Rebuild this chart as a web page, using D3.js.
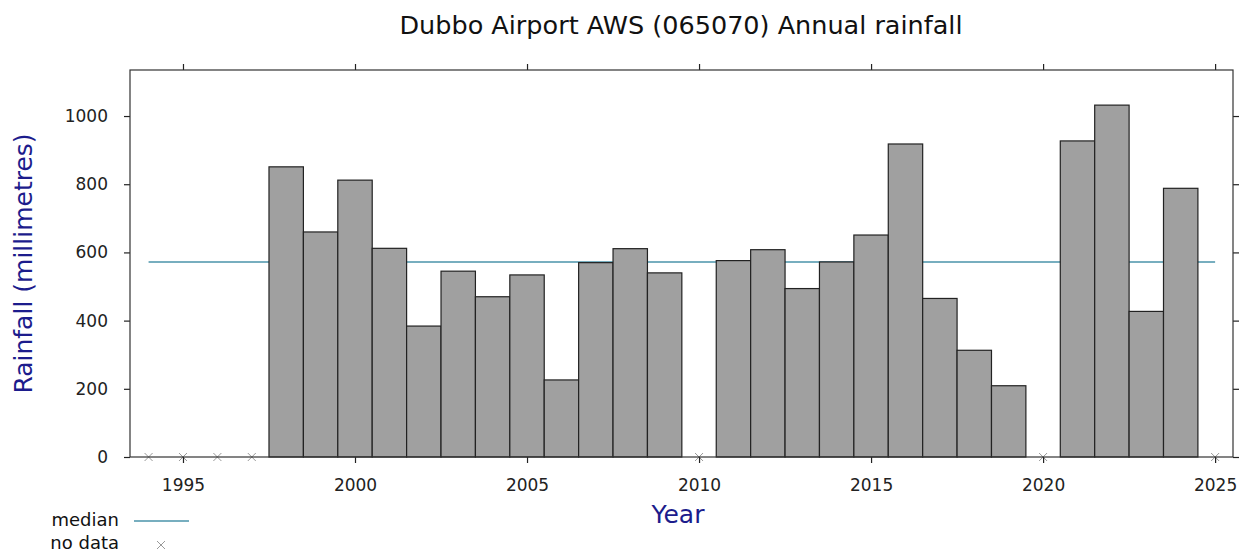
<!DOCTYPE html>
<html>
<head>
<meta charset="utf-8">
<script src="https://cdn.jsdelivr.net/npm/d3@7"></script>
<style>
  body { margin: 0; background: #fff; }
  svg text { font-family: "DejaVu Sans", sans-serif; }
</style>
</head>
<body>
<script>
const width = 1246;
const height = 552;

// annual rainfall (mm)
const years = [1998, 1999, 2000, 2001, 2002, 2003, 2004, 2005, 2006, 2007, 2008, 2009,
  2011, 2012, 2013, 2014, 2015, 2016, 2017, 2018, 2019, 2021, 2022, 2023, 2024];
const rainfall = [851, 660, 812, 612, 384, 545, 470, 534, 226, 570, 611, 540,
  576, 608, 494, 572, 651, 918, 465, 313, 209, 927, 1032, 427, 788];
const noDataYears = [1994, 1995, 1996, 1997, 2010, 2020, 2025];
const median = 572;
const xTicks = [1995, 2000, 2005, 2010, 2015, 2020, 2025];
const yTicks = [0, 200, 400, 600, 800, 1000];

let margin = { top: 70, right: 13, bottom: 95, left: 130 };

let svg = d3.select("body").append("svg")
  .attr("width", width)
  .attr("height", height);

let xScale = d3.scaleLinear()
  .domain([1993.46, 2025.52])
  .range([margin.left, width - margin.right]);

let yScale = d3.scaleLinear()
  .domain([0, 1135])
  .range([height - margin.bottom, margin.top]);

let data = years.map((y, i) => ({ year: y, value: rainfall[i] }));

// median line (drawn under bars)
svg.append("line")
  .attr("x1", xScale(1994))
  .attr("x2", xScale(2025))
  .attr("y1", yScale(median))
  .attr("y2", yScale(median))
  .attr("stroke", "#4a93aa")
  .attr("stroke-width", 1.5);

svg.selectAll("rect.bar")
  .data(data)
  .join("rect")
  .attr("class", "bar")
  .attr("x", (d) => xScale(d.year - 0.5))
  .attr("width", (d) => xScale(d.year + 0.5) - xScale(d.year - 0.5))
  .attr("y", (d) => yScale(d.value))
  .attr("height", (d) => yScale(0) - yScale(d.value))
  .attr("fill", "#a0a0a0")
  .attr("stroke", "#222")
  .attr("stroke-width", 1.2);

// no data markers
let cross = 4;
let nd = svg.selectAll("g.nodata")
  .data(noDataYears)
  .join("g")
  .attr("class", "nodata")
  .attr("transform", (d) => `translate(${xScale(d)}, ${yScale(0)})`);
nd.append("path")
  .attr("d", `M${-cross},${-cross}L${cross},${cross}M${-cross},${cross}L${cross},${-cross}`)
  .attr("stroke", "#999")
  .attr("stroke-width", 1);

// axes
let bottomAxis = d3.axisBottom(xScale).tickValues(xTicks).tickFormat(d3.format("d")).tickSize(6).tickPadding(16);
let topAxis = d3.axisTop(xScale).tickValues(xTicks).tickFormat("").tickSize(6);
let leftAxis = d3.axisLeft(yScale).tickValues(yTicks).tickFormat(d3.format("d")).tickSize(6).tickPadding(16);
let rightAxis = d3.axisRight(yScale).tickValues(yTicks).tickFormat("").tickSize(6);

function style(g) {
  g.select(".domain").remove();
  g.selectAll(".tick line").attr("stroke", "#222").attr("stroke-width", 1.2);
  g.selectAll(".tick text")
    .attr("fill", "#222")
    .style("font-size", "17px")
    .style("font-family", '"DejaVu Sans", sans-serif');
}

svg.append("g").attr("transform", `translate(0, ${height - margin.bottom})`).call(bottomAxis).call(style);
svg.append("g").attr("transform", `translate(0, ${margin.top})`).call(topAxis).call(style);
svg.append("g").attr("transform", `translate(${margin.left}, 0)`).call(leftAxis).call(style);
svg.append("g").attr("transform", `translate(${width - margin.right}, 0)`).call(rightAxis).call(style);

// frame
svg.append("rect")
  .attr("x", margin.left)
  .attr("y", margin.top)
  .attr("width", width - margin.left - margin.right)
  .attr("height", height - margin.top - margin.bottom)
  .attr("fill", "none")
  .attr("stroke", "#333")
  .attr("stroke-width", 1.2);

// title and axis labels
svg.append("text")
  .text("Dubbo Airport AWS (065070) Annual rainfall")
  .attr("x", 681)
  .attr("y", 34)
  .attr("text-anchor", "middle")
  .attr("fill", "#111")
  .style("font-size", "25.5px");

svg.append("text")
  .text("Rainfall (millimetres)")
  .attr("text-anchor", "middle")
  .attr("fill", "#1c1c8c")
  .style("font-size", "25px")
  .attr("transform", `translate(32, ${(margin.top + height - margin.bottom) / 2}) rotate(270)`);

svg.append("text")
  .text("Year")
  .attr("x", 678)
  .attr("y", 523)
  .attr("text-anchor", "middle")
  .attr("fill", "#1c1c8c")
  .style("font-size", "25px");

// legend
let legend = svg.append("g");
legend.append("text").text("median")
  .attr("x", 119).attr("y", 526)
  .attr("text-anchor", "end").attr("fill", "#111").style("font-size", "18px");
legend.append("line")
  .attr("x1", 134).attr("x2", 189).attr("y1", 521).attr("y2", 521)
  .attr("stroke", "#4a93aa").attr("stroke-width", 1.5);
legend.append("text").text("no data")
  .attr("x", 119).attr("y", 549)
  .attr("text-anchor", "end").attr("fill", "#111").style("font-size", "18px");
legend.append("path")
  .attr("transform", "translate(161, 545)")
  .attr("d", `M${-cross},${-cross}L${cross},${cross}M${-cross},${cross}L${cross},${-cross}`)
  .attr("stroke", "#999").attr("stroke-width", 1);
</script>
</body>
</html>
